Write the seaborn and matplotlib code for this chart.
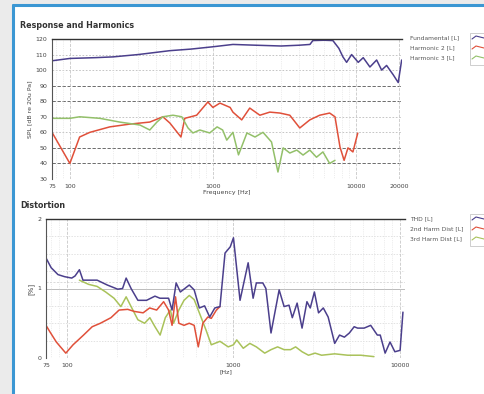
import matplotlib
matplotlib.use("Agg")
import matplotlib.pyplot as plt
from matplotlib.lines import Line2D
from matplotlib.patches import Rectangle
import numpy as np
import pandas as pd
import seaborn as sns

# ---------------- data ----------------
fund_f = [75, 100, 150, 200, 300, 500, 700, 1000, 1380, 2000, 3000, 4000, 4770, 5000,
          6000, 6900, 7600, 8100, 8610, 9330, 10380, 11250, 12530, 13960, 15130,
          16390, 18230, 19760, 20890]
fund_db = [106, 107.5, 108, 108.5, 110, 112.5, 113.5, 115, 116.5, 116, 115.5, 116, 116.5,
           119, 119.2, 119, 114, 108.6, 105, 110, 105, 108, 102, 106.5, 100, 103,
           97, 92, 106.5]

h2_f = [75, 100, 117, 138, 190, 263, 362, 447, 500, 598, 636, 770, 922, 1000, 1120,
        1320, 1380, 1590, 1810, 2130, 2500, 2940, 3450, 4050, 4760, 5580, 6550,
        7140, 7740, 8270, 8800, 9530, 10300]
h2_db = [60, 40, 57, 60, 63.5, 65.3, 66.6, 70, 66, 57, 69, 71, 79.5, 76, 78.8,
         76, 73, 68, 75.6, 71, 73, 72.4, 71, 62.8, 68, 71, 72.4,
         70, 50.5, 42, 50, 47.4, 59.5]

h3_f = [75, 100, 117, 162, 223, 309, 362, 406, 447, 526, 606, 670, 725, 810, 950,
        1070, 1170, 1250, 1380, 1510, 1730, 1970, 2240, 2570, 2850, 3100, 3450,
        3860, 4270, 4760, 5300, 5880, 6550, 7140]
h3_db = [69, 69, 70, 69, 66.6, 64.7, 61.5, 66.6, 70, 71, 70, 62.8, 59.6, 61.5, 59.6,
         63.5, 61.5, 55, 60, 45.5, 59.6, 57, 60, 53.8, 34.5, 50, 46.7,
         48.6, 45.4, 48.6, 44, 47.4, 40, 42]

thd_f = [75, 80.5, 88.5, 97, 107, 112, 119, 125, 152, 175, 202, 216, 227, 243, 267,
         301, 338, 362, 408, 428, 453, 480, 543, 581, 624, 671, 720, 773, 830,
         890, 957, 1000, 1095, 1225, 1312, 1372, 1500, 1565, 1680, 1880, 2013,
         2155, 2255, 2410, 2580, 2760, 2890, 3060, 3240, 3460, 3700, 4050, 4330,
         4630, 4960, 5300, 5560, 6080, 6660, 7300, 7600, 8130, 8700, 9300, 10000,
         10400]
thd_pct = [1.44, 1.3, 1.2, 1.17, 1.15, 1.18, 1.27, 1.12, 1.12, 1.05, 0.99, 1.0, 1.15,
           1.0, 0.83, 0.83, 0.89, 0.86, 0.86, 0.69, 1.08, 0.95, 1.05, 0.98, 0.72,
           0.75, 0.59, 0.72, 0.74, 1.51, 1.6, 1.73, 0.83, 1.37, 0.86, 1.08, 1.08,
           1.0, 0.36, 0.98, 0.74, 0.76, 0.58, 0.79, 0.43, 0.81, 0.72, 0.95, 0.65,
           0.72, 0.59, 0.21, 0.33, 0.3, 0.36, 0.45, 0.43, 0.43, 0.47, 0.33, 0.33,
           0.07, 0.23, 0.09, 0.11, 0.66]

d2_f = [75, 79, 86.5, 98.6, 109, 126, 142, 159, 184, 206, 232, 254, 287, 314, 346,
        381, 408, 428, 449, 470, 505, 543, 581, 615, 655, 702, 736, 790, 830]
d2_pct = [0.47, 0.38, 0.23, 0.07, 0.19, 0.33, 0.45, 0.5, 0.58, 0.69, 0.7, 0.67, 0.65,
          0.72, 0.69, 0.81, 0.69, 0.47, 0.88, 0.5, 0.47, 0.5, 0.47, 0.16, 0.5, 0.59,
          0.57, 0.69, 0.74]

d3_f = [119, 135, 152, 171, 192, 211, 227, 243, 267, 293, 315, 338, 363, 390, 418,
        437, 470, 505, 543, 581, 624, 685, 736, 830, 930, 1000, 1046, 1145, 1254,
        1372, 1540, 1680, 1840, 2013, 2200, 2360, 2580, 2820, 3090, 3380, 4050,
        4850, 5810, 6960]
d3_pct = [1.12, 1.06, 1.03, 0.95, 0.86, 0.74, 0.88, 0.74, 0.55, 0.5, 0.58, 0.45, 0.33,
          0.58, 0.69, 0.5, 0.69, 0.83, 0.9, 0.84, 0.65, 0.4, 0.19, 0.24, 0.16, 0.19,
          0.26, 0.14, 0.21, 0.16, 0.07, 0.12, 0.16, 0.12, 0.12, 0.16, 0.09, 0.04,
          0.07, 0.04, 0.06, 0.04, 0.04, 0.02]

top_labels = ["Fundamental [L]", "Harmonic 2 [L]", "Harmonic 3 [L]"]
bot_labels = ["THD [L]", "2nd Harm Dist [L]", "3rd Harm Dist [L]"]
top_yticks = [30, 40, 50, 60, 70, 80, 90, 100, 110, 120]
top_xticks = [75, 100, 1000, 10000, 20000]
bot_xticks = [75, 100, 1000, 10000]
bot_yticks = [0, 1, 2]

# ---------------- style ----------------
sns.set_theme(style="white")
plt.rcParams["font.family"] = ["DejaVu Sans"]

C_FUND = "#4b3f8c"
C_RED = "#e0503a"
C_GREEN = "#93c06a"
C_GREEN2 = "#a9c25a"

fig = plt.figure(figsize=(4.84, 3.94), dpi=100)
fig.patch.set_facecolor("#ebebeb")
# white panel with blue frame (drawn beneath the axes)
fig.patches.append(Rectangle((13 / 484, 0), 1, 1 - 5 / 394, transform=fig.transFigure,
                             facecolor="white", edgecolor="none", zorder=-5))
fig.lines.append(Line2D([13 / 484, 13 / 484], [0, 1 - 5 / 394], transform=fig.transFigure,
                        color="#3b97d3", lw=2.2, zorder=-4))
fig.lines.append(Line2D([13 / 484, 1], [1 - 5 / 394, 1 - 5 / 394], transform=fig.transFigure,
                        color="#3b97d3", lw=2.2, zorder=-4))

ax1 = fig.add_axes([52 / 484, 1 - 179 / 394, 350 / 484, 140 / 394])
ax2 = fig.add_axes([46 / 484, 1 - 358 / 394, 359 / 484, 139 / 394])


def style_axes(ax):
    ax.set_facecolor("none")
    ax.set_xscale("log")
    for s in ["right", "bottom"]:
        ax.spines[s].set_visible(False)
    ax.spines["top"].set_color("#333333")
    ax.spines["top"].set_linewidth(1.0)
    ax.spines["left"].set_color("#555555")
    ax.spines["left"].set_linewidth(0.8)
    ax.tick_params(axis="both", labelsize=4.5, colors="#444444", length=2, width=0.6,
                   pad=1.5, which="major")
    ax.tick_params(axis="both", which="minor", length=0)
    ax.grid(True, which="minor", axis="x", color="#dddddd", lw=0.5, ls=":")
    ax.grid(True, which="major", axis="x", color="#c8c8c8", lw=0.6, ls="--")


# ---------------- top: response & harmonics ----------------
df_top = pd.concat([
    pd.DataFrame({"f": fund_f, "v": fund_db, "s": top_labels[0]}),
    pd.DataFrame({"f": h2_f, "v": h2_db, "s": top_labels[1]}),
    pd.DataFrame({"f": h3_f, "v": h3_db, "s": top_labels[2]}),
])
style_axes(ax1)
sns.lineplot(data=df_top, x="f", y="v", hue="s", palette=[C_FUND, C_RED, C_GREEN],
             ax=ax1, legend=False, lw=1.1, sort=False, estimator=None)
ax1.set_xlim(75, 21000)
ax1.set_ylim(30, 120)
ax1.set_yticks(top_yticks)
ax1.set_xticks(top_xticks)
ax1.set_xticklabels([str(t) for t in top_xticks])
for y in top_yticks[1:]:
    dark = y in (40, 50, 80, 90)
    ax1.axhline(y, color="#555555" if dark else "#bbbbbb", lw=0.6,
                ls=(0, (4, 2)) if dark else (0, (2, 2)), zorder=0.5)
ax1.set_xlabel("Frequency [Hz]", fontsize=4.5, color="#444444", labelpad=1)
ax1.set_ylabel("SPL [dB re 20u Pa]", fontsize=4.5, color="#444444", labelpad=2)

# ---------------- bottom: distortion ----------------
df_bot = pd.concat([
    pd.DataFrame({"f": thd_f, "v": thd_pct, "s": bot_labels[0]}),
    pd.DataFrame({"f": d2_f, "v": d2_pct, "s": bot_labels[1]}),
    pd.DataFrame({"f": d3_f, "v": d3_pct, "s": bot_labels[2]}),
])
style_axes(ax2)
sns.lineplot(data=df_bot[df_bot.s == bot_labels[2]], x="f", y="v", color=C_GREEN2,
             ax=ax2, legend=False, lw=1.1, sort=False, estimator=None)
sns.lineplot(data=df_bot[df_bot.s == bot_labels[1]], x="f", y="v", color=C_RED,
             ax=ax2, legend=False, lw=1.1, sort=False, estimator=None)
sns.lineplot(data=df_bot[df_bot.s == bot_labels[0]], x="f", y="v", color=C_FUND,
             ax=ax2, legend=False, lw=1.1, sort=False, estimator=None)
ax2.set_xlim(75, 10700)
ax2.set_ylim(0, 2)
ax2.set_yticks(bot_yticks)
ax2.set_xticks(bot_xticks)
ax2.set_xticklabels([str(t) for t in bot_xticks])
for y in [0.25, 0.5, 0.75, 1.25, 1.5, 1.75]:
    ax2.axhline(y, color="#d6d6d6", lw=0.5, ls=(0, (2, 2)), zorder=0.5)
ax2.axhline(1.0, color="#bbbbbb", lw=0.7, ls="-", zorder=0.5)
ax2.axhline(1.1, color="#cccccc", lw=0.5, ls=(0, (3, 2)), zorder=0.5)
ax2.set_xlabel("[Hz]", fontsize=4.5, color="#444444", labelpad=1)
ax2.set_ylabel("[%]", fontsize=5, color="#444444", labelpad=2)

# ---------------- titles ----------------
fig.text(20 / 484, 1 - 26 / 394, "Response and Harmonics", fontsize=5.8, fontweight="bold",
         color="#333333", va="center", ha="left")
fig.text(20 / 484, 1 - 206 / 394, "Distortion", fontsize=5.8, fontweight="bold",
         color="#333333", va="center", ha="left")


# ---------------- side legends ----------------
def side_legend(labels, colors, y0):
    for i, (lab, col) in enumerate(zip(labels, colors)):
        y = 1 - (y0 + i * 10) / 394
        fig.text(410 / 484, y, lab, fontsize=4.3, color="#555555", va="center", ha="left")
    fig.patches.append(Rectangle((470 / 484, 1 - (y0 + 27) / 394), 20 / 484, 32 / 394,
                                 transform=fig.transFigure, facecolor="white",
                                 edgecolor="#bbbbbb", lw=0.5, zorder=1))
    for i, col in enumerate(colors):
        yb = y0 - 2 + i * 10
        xs = np.array([472, 476, 480, 484]) / 484
        ys = 1 - (yb + np.array([3, 0, 1, 2])) / 394
        fig.lines.append(Line2D(xs, ys, transform=fig.transFigure, color=col, lw=0.8,
                                zorder=2))


side_legend(top_labels, [C_FUND, C_RED, C_GREEN], 38)
side_legend(bot_labels, [C_FUND, C_RED, C_GREEN2], 219)

fig.savefig("out.png", dpi=100, facecolor=fig.get_facecolor())
